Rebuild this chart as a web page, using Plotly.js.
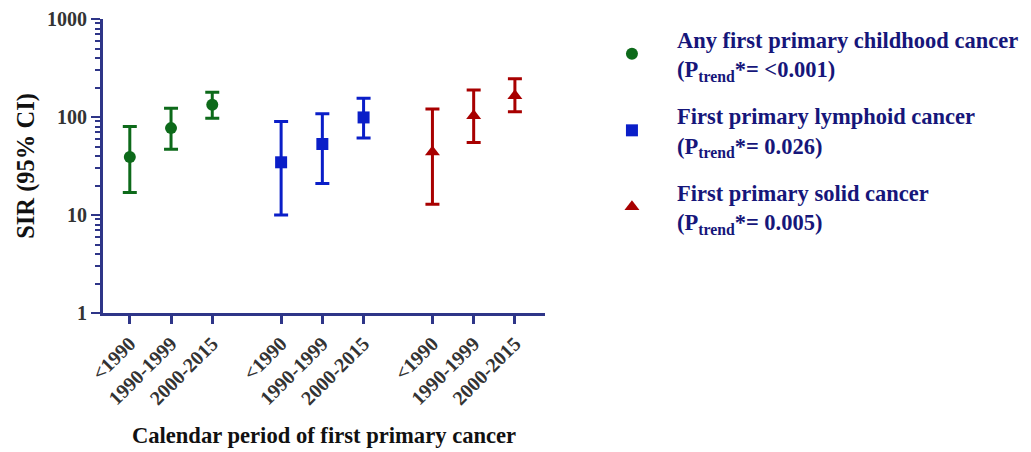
<!DOCTYPE html>
<html><head><meta charset="utf-8">
<script src="https://cdn.plot.ly/plotly-3.0.1.min.js"></script>
<style>html,body{margin:0;padding:0;background:#fff}#chart{width:1031px;height:452px}</style>
</head><body><div id="chart"></div>
<script>
const periods = ['<1990', '1990-1999', '2000-2015'];
const seriesNames = [
  'Any first primary childhood cancer<br>(P<sub>trend</sub>*= <0.001)',
  'First primary lymphoid cancer<br>(P<sub>trend</sub>*= 0.026)',
  'First primary solid cancer<br>(P<sub>trend</sub>*= 0.005)'
];
const anySIR = [39, 77, 133];
const anyLow = [17, 47, 97];
const anyHigh = [80, 123, 179];
const lymphSIR = [34.5, 53, 99];
const lymphLow = [10, 21, 61];
const lymphHigh = [90, 108, 155];
const solidSIR = [44, 103, 165];
const solidLow = [12.9, 55, 113];
const solidHigh = [121, 189, 246];

const colors = ['#0d6a1a', '#0a1ec8', '#a80000'];
const symbols = ['circle', 'square', 'triangle-up'];
const groupOffset = 3.67;
const series = [[anySIR, anyLow, anyHigh], [lymphSIR, lymphLow, lymphHigh], [solidSIR, solidLow, solidHigh]];

const traces = [];
const tickvals = [], ticktext = [];
series.forEach((s, g) => {
  const xs = periods.map((p, i) => g * groupOffset + i);
  xs.forEach((x, i) => { tickvals.push(x); ticktext.push(periods[i]); });
  traces.push({
    type: 'scatter', mode: 'markers', name: seriesNames[g], x: xs, y: s[0],
    legendgroup: 'g' + g,
    marker: {color: colors[g], symbol: symbols[g], size: g === 2 ? 13 : 12},
    error_y: {type: 'data', symmetric: false,
      array: s[0].map((v, i) => s[2][i] - v),
      arrayminus: s[0].map((v, i) => v - s[1][i]),
      color: colors[g], thickness: 3, width: 7}
  });
});

const serif = 'Liberation Serif, Times New Roman, serif';
const axisColor = '#2e3588';
const tickFont = {family: serif, size: 20, color: '#333', weight: 'bold'};
const layout = {
  width: 1031, height: 452,
  margin: {l: 103, r: 486, t: 19, b: 139},
  paper_bgcolor: '#fff', plot_bgcolor: '#fff',
  showlegend: true,
  legend: {
    xref: 'container', yref: 'container', x: 0.5693, y: 0.96, xanchor: 'left', yanchor: 'top',
    font: {family: serif, size: 22.5, color: '#16167a', weight: 'bold'},
    tracegroupgap: 15, itemwidth: 80, bgcolor: 'rgba(0,0,0,0)'
  },
  xaxis: {
    range: [-0.65, 10.07], tickvals: tickvals, ticktext: ticktext, tickangle: -45,
    showgrid: false, zeroline: false, showline: true, linecolor: axisColor, linewidth: 3,
    ticks: 'outside', ticklen: 8, tickwidth: 3, tickcolor: axisColor,
    tickfont: tickFont, automargin: false,
    title: {text: 'Calendar period of first primary cancer', standoff: 19,
      font: {family: serif, size: 22.6, color: '#111', weight: 'bold'}}
  },
  yaxis: {
    type: 'log', range: [0, 3], tickvals: [1, 10, 100, 1000], ticktext: ['1', '10', '100', '1000'],
    showgrid: false, zeroline: false, showline: true, linecolor: axisColor, linewidth: 3,
    ticks: 'outside', ticklen: 9, tickwidth: 2, tickcolor: axisColor,
    tickfont: tickFont, automargin: false,
    minor: {ticks: 'outside', ticklen: 5, tickwidth: 2, tickcolor: axisColor, dtick: 'D1', showgrid: false},
    title: {text: 'SIR (95% CI)', standoff: 6,
      font: {family: serif, size: 24.5, color: '#111', weight: 'bold'}}
  }
};
Plotly.newPlot('chart', traces, layout, {displayModeBar: false, staticPlot: true});
</script></body></html>
